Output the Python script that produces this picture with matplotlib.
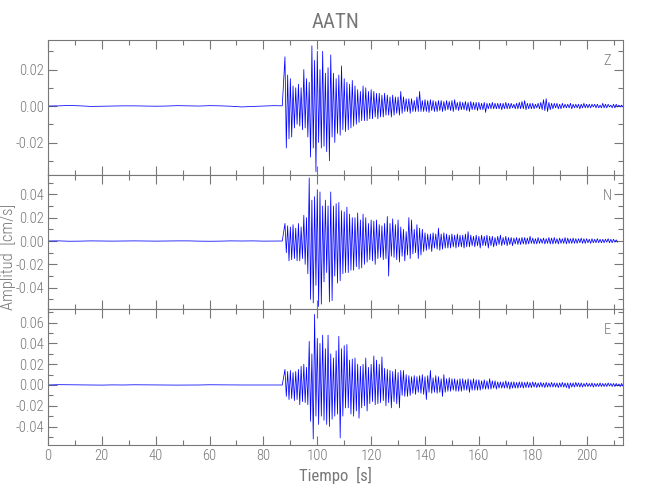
import numpy as np
import matplotlib
matplotlib.use("Agg")
import matplotlib.pyplot as plt
from matplotlib.ticker import MultipleLocator, FormatStrFormatter

plt.rcParams["font.family"] = ["Roboto Condensed", "Barlow Condensed", "Fira Sans Condensed",
                               "PT Sans Narrow", "Archivo Narrow", "Liberation Sans Narrow",
                               "Roboto", "DejaVu Sans"]
plt.rcParams["font.weight"] = "light"

# Station and component names
station = "AATN"
components = ["Z", "N", "E"]

# Quiet part before the P arrival, one value every 4 s (units of 1e-4 cm/s)
pre_time = [0, 4, 8, 12, 16, 20, 24, 28, 32, 36, 40, 44, 48, 52, 56, 60, 64, 68, 72, 76, 80, 84, 87]
z_pre = [0, 1, 3, 1, -2, -1, 0, 1, 1, 0, -1, 0, 2, 1, 0, 2, 1, -1, -5, -2, 0, 2, 1]
n_pre = [0, 1, -2, -1, 1, 0, -1, 0, 1, 0, -1, 0, 1, 1, -1, -2, -1, 1, 0, 1, -1, 0, 0]
e_pre = [0, 3, 2, 0, -1, -1, 1, 0, 2, 1, 1, 0, -1, -1, 0, 2, 1, -1, 0, 0, 1, 0, 0]

# Event part: positive / negative peak in each second from 88 s (units of 1e-4 cm/s)
event_start = 88
z_hi = [270, 170, 150, 110, 100, 120, 100, 200, 150, 130, 330, 250, 300, 200, 300, 180, 210, 280, 180, 150,
        170, 220, 150, 130, 120, 140, 110, 90, 80, 110, 100, 80, 90, 80, 70, 70, 60, 70, 60, 50,
        60, 50, 50, 80, 50, 40, 40, 40, 30, 50, 80, 30, 35, 30, 35, 30, 25, 30, 30, 25,
        30, 25, 30, 35, 20, 25, 20, 25, 20, 25, 20, 20, 20, 15, 20, 15, 15, 20, 15, 15,
        15, 15, 20, 15, 15, 10, 15, 20, 25, 30, 15, 15, 15, 10, 15, 20, 35, 40, 20, 15,
        15, 15, 10, 15, 10, 10, 15, 10, 10, 10, 10, 15, 10, 10, 10, 10, 10, 5, 15, 10,
        10, 5, 10, 10, 5, 5]
z_lo = [-230, -180, -170, -120, -100, -110, -130, -120, -170, -280, -230, -360, -200, -230, -220, -250, -300, -170, -200, -150,
        -160, -130, -140, -130, -120, -110, -100, -90, -80, -80, -80, -70, -70, -60, -70, -60, -60, -50, -50, -60,
        -50, -40, -50, -40, -30, -30, -40, -30, -30, -30, -30, -30, -30, -35, -25, -30, -30, -25, -30, -25,
        -20, -25, -30, -20, -25, -20, -20, -25, -30, -20, -20, -25, -20, -20, -35, -15, -15, -15, -15, -15,
        -20, -15, -15, -15, -10, -15, -15, -15, -15, -20, -15, -15, -15, -10, -15, -20, -25, -30, -20, -15,
        -10, -15, -15, -10, -10, -10, -15, -10, -10, -15, -10, -10, -10, -10, -5, -10, -10, -10, -10, -10,
        -5, -10, -10, -5, -5, -5]

n_hi = [150, 130, 120, 140, 110, 150, 120, 220, 200, 540, 350, 380, 440, 420, 300, 350, 300, 420, 300, 320,
        330, 260, 250, 290, 230, 200, 200, 240, 180, 230, 200, 150, 180, 170, 180, 140, 130, 150, 210, 150,
        190, 140, 180, 120, 100, 80, 200, 180, 100, 140, 110, 100, 70, 60, 60, 70, 60, 110, 60, 70,
        60, 50, 60, 50, 60, 50, 50, 60, 80, 50, 40, 50, 40, 50, 40, 50, 40, 40, 30, 40,
        50, 30, 40, 30, 30, 25, 30, 25, 30, 30, 25, 40, 25, 20, 30, 20, 25, 20, 30, 25,
        30, 20, 25, 20, 30, 25, 20, 25, 20, 20, 25, 20, 20, 15, 20, 15, 20, 15, 15, 15,
        20, 15, 15, 10]
n_lo = [-100, -170, -160, -150, -170, -170, -150, -200, -280, -500, -530, -380, -560, -540, -350, -270, -520, -510, -300, -360,
        -340, -280, -270, -270, -250, -250, -220, -240, -230, -200, -180, -160, -170, -200, -150, -140, -160, -150, -300, -130,
        -140, -160, -180, -130, -170, -120, -150, -110, -100, -150, -120, -90, -80, -70, -90, -60, -70, -80, -70, -60,
        -60, -60, -50, -60, -50, -50, -60, -50, -50, -40, -50, -40, -60, -40, -40, -60, -40, -50, -40, -30,
        -40, -30, -40, -30, -40, -25, -30, -30, -25, -30, -25, -20, -25, -25, -20, -20, -25, -20, -25, -25,
        -20, -25, -20, -20, -25, -20, -20, -20, -20, -15, -20, -20, -15, -20, -15, -15, -15, -15, -15, -10,
        -15, -15, -10, -10]

e_hi = [150, 130, 140, 120, 130, 150, 180, 200, 170, 420, 300, 680, 450, 400, 480, 350, 480, 300, 260, 330,
        470, 350, 380, 390, 240, 250, 260, 200, 180, 200, 260, 170, 200, 280, 240, 200, 270, 160, 150, 140,
        130, 150, 120, 140, 140, 100, 90, 80, 90, 80, 90, 100, 80, 90, 140, 70, 90, 80, 60, 100,
        60, 70, 60, 60, 50, 60, 60, 50, 60, 50, 60, 50, 50, 40, 50, 40, 60, 40, 40, 30,
        30, 30, 40, 30, 30, 30, 25, 30, 30, 25, 30, 25, 30, 25, 20, 25, 20, 25, 20, 25,
        20, 20, 20, 25, 20, 20, 20, 20, 25, 20, 20, 15, 20, 15, 20, 15, 15, 20, 15, 15,
        20, 15, 15, 15, 10, 15]
e_lo = [-110, -140, -130, -150, -140, -190, -160, -170, -190, -350, -520, -300, -380, -300, -340, -380, -400, -330, -300, -280,
        -510, -300, -220, -220, -280, -300, -250, -320, -220, -200, -250, -180, -160, -190, -180, -170, -150, -200, -170, -220,
        -160, -180, -220, -100, -110, -110, -100, -80, -90, -70, -80, -90, -140, -70, -80, -70, -80, -70, -110, -70,
        -60, -60, -50, -60, -60, -60, -50, -50, -70, -50, -50, -50, -50, -40, -40, -40, -40, -30, -40, -30,
        -30, -30, -30, -40, -30, -30, -30, -25, -30, -25, -25, -25, -20, -25, -20, -20, -25, -20, -20, -20,
        -20, -25, -20, -20, -25, -35, -20, -20, -15, -20, -20, -15, -15, -15, -20, -15, -15, -15, -15, -15,
        -10, -15, -15, -10, -15, -10]

# Axis limits of each panel (cm/s)
y_limits = [(-0.0378, 0.0362), (-0.0582, 0.0565), (-0.0578, 0.0732)]
x_max = 213.6


def buildTrace( pre, hi, lo ):
    """Joins the quiet part and the per-second peaks into one time series."""

    n = min( len(hi), len(lo) )
    t_evt = np.repeat( np.arange(event_start, event_start + n), 2 ) + np.tile( [0.0, 0.5], n )
    v_evt = np.column_stack( [hi[:n], lo[:n]] ).ravel()

    t = np.concatenate( [pre_time, t_evt] )
    v = np.concatenate( [pre, v_evt] ) * 1e-4

    return t, v


def styleAxis( ax, ylim, major, showX ):

    gray = "#777777"

    ax.set_xlim( 0, x_max )
    ax.set_ylim( *ylim )
    ax.xaxis.set_major_locator( MultipleLocator(20) )
    ax.xaxis.set_minor_locator( MultipleLocator(10) )
    ax.yaxis.set_major_locator( MultipleLocator(major) )
    ax.yaxis.set_minor_locator( MultipleLocator(0.01) )
    ax.yaxis.set_major_formatter( FormatStrFormatter("%.2f") )

    ax.tick_params( which = "both", direction = "in", top = True, right = True,
                    colors = gray, labelsize = 10.5, width = 0.8, pad = 3 )
    ax.tick_params( which = "major", length = 6.5 )
    ax.tick_params( which = "minor", length = 3.6 )

    if not showX:
        ax.tick_params( labelbottom = False )

    for s in ax.spines.values():
        s.set_color( gray )
        s.set_linewidth( 0.8 )


fig = plt.figure( figsize = (6.5, 5), dpi = 100 )

traces = [ buildTrace(z_pre, z_hi, z_lo),
           buildTrace(n_pre, n_hi, n_lo),
           buildTrace(e_pre, e_hi, e_lo) ]
majors = [0.02, 0.02, 0.02]
bottoms = [0.65, 0.382, 0.11]
heights = [0.27, 0.268, 0.272]

axes = []
for i in range(3):
    ax = fig.add_axes( [0.0738, bottoms[i], 0.885, heights[i]] )
    t, v = traces[i]
    ax.plot( t, v, color = "blue", linewidth = 0.55 )
    styleAxis( ax, y_limits[i], majors[i], i == 2 )
    ax.text( 0.972, 0.845, components[i], transform = ax.transAxes,
             ha = "center", va = "center", color = "#777777", fontsize = 10.5 )
    axes.append( ax )

axes[0].set_title( station, color = "#777777", fontsize = 15, pad = 9 )
axes[2].set_xlabel( "Tiempo  [s]", color = "#777777", fontsize = 12, labelpad = 3 )
fig.text( 0.013, 0.486, "Amplitud  [cm/s]", rotation = 90, ha = "center", va = "center",
          color = "#777777", fontsize = 12 )

fig.savefig( "out.png", dpi = 100 )
